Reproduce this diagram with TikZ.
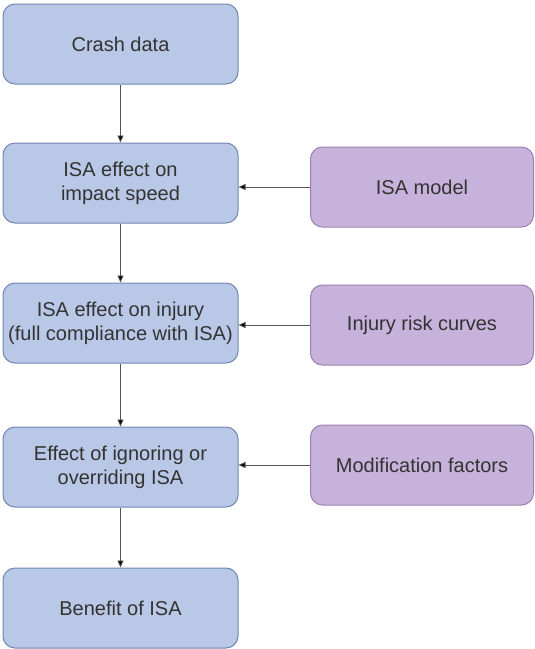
\documentclass[tikz,border=0pt]{standalone}
\usepackage{fontspec}
\setmainfont{Liberation Sans}
\usetikzlibrary{arrows.meta}
\definecolor{bfill}{HTML}{B9C8E6}
\definecolor{bdraw}{HTML}{7088B0}
\definecolor{pfill}{HTML}{C7B2DC}
\definecolor{pdraw}{HTML}{9A82B0}
\definecolor{txt}{HTML}{333333}
\definecolor{lin}{HTML}{555555}
\tikzset{
  box/.style={rounded corners=12pt, minimum height=80pt, align=center, text=txt,
    font=\fontsize{20}{24}\selectfont, line width=1pt, inner sep=0pt},
  bluebox/.style={box, fill=bfill, draw=bdraw, minimum width=235pt},
  purplebox/.style={box, fill=pfill, draw=pdraw, minimum width=223pt},
  conn/.style={draw=lin, line width=0.8pt, -{Triangle[length=7pt,width=6pt,fill=black]}}
}
\begin{document}
\begin{tikzpicture}[x=1pt,y=-1pt]
\useasboundingbox (0,0) rectangle (535,649);
\node[bluebox] (a) at (120.5,44) {Crash data};
\node[bluebox] (b) at (120.5,183) {ISA effect on\\impact speed};
\node[bluebox] (c) at (120.5,323) {ISA effect on injury\\(full compliance with ISA)};
\node[bluebox] (d) at (120.5,467) {Effect of ignoring or\\overriding ISA};
\node[bluebox] (e) at (120.5,608) {Benefit of ISA};
\node[purplebox] (m) at (422,187) {ISA model};
\node[purplebox] (r) at (422,325) {Injury risk curves};
\node[purplebox] (f) at (422,465) {Modification factors};
\draw[conn] (a) -- (b);
\draw[conn] (b) -- (c);
\draw[conn] (c) -- (d);
\draw[conn] (d) -- (e);
\draw[conn] (m.west) -- (b.east |- m.west);
\draw[conn] (r.west) -- (c.east |- r.west);
\draw[conn] (f.west) -- (d.east |- f.west);
\end{tikzpicture}
\end{document}
